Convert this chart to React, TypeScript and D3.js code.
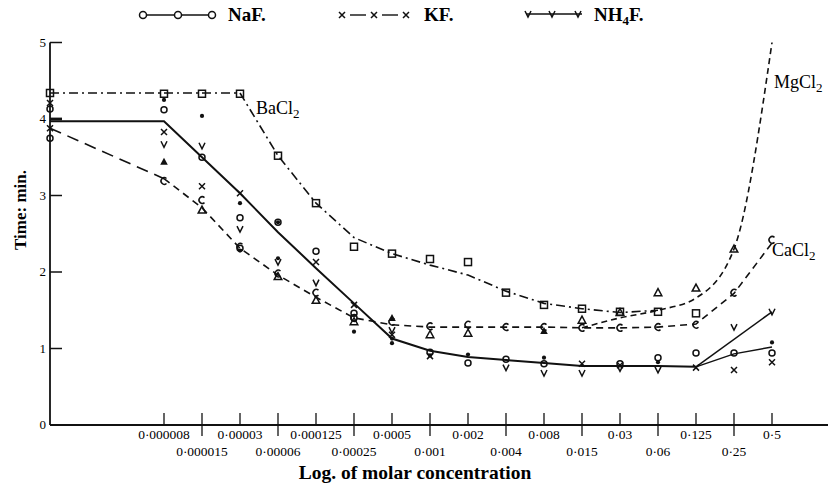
import React from 'react'
import * as d3 from 'd3'

// concentration steps along the bottom (each one doubles the last)
const concentrations = [
  '0·000008', '0·000015', '0·00003', '0·00006', '0·000125', '0·00025', '0·0005', '0·001',
  '0·002', '0·004', '0·008', '0·015', '0·03', '0·06', '0·125', '0·25', '0·5',
]
const CONTROL = 'control'
const lineCats = [CONTROL, ...concentrations]
const yTicks = [0, 1, 2, 3, 4, 5]

// drawn curves, one value per entry of lineCats (null = no line there)
const fluorideLine = [3.97, 3.97, 3.5, 3.03, 2.52, 2.05, 1.59, 1.13, 0.97, 0.89, 0.85, 0.81, 0.77, 0.77, 0.77, 0.76, null, null]
const naFBranch = [null, null, null, null, null, null, null, null, null, null, null, null, null, null, null, 0.76, 0.93, 1.02]
const nh4FBranch = [null, null, null, null, null, null, null, null, null, null, null, null, null, null, null, 0.76, null, 1.48]
const bacl2Line = [4.34, 4.34, 4.34, 4.34, 3.52, 2.9, 2.45, 2.24, 2.09, 1.96, 1.75, 1.59, 1.52, 1.47, 1.5, null, null, null]
const cacl2Line = [3.88, 3.22, 2.84, 2.31, 1.96, 1.67, 1.4, 1.31, 1.28, 1.28, 1.28, 1.28, 1.27, 1.27, 1.28, 1.32, 1.72, 2.38]
const mgcl2Line = [null, null, null, null, null, null, null, null, null, null, null, null, 1.27, 1.4, 1.5, 1.66, 2.3, 5.0]

// readings: [concentration, minutes]
const naF = [
  [CONTROL, 4.13], [CONTROL, 3.75], ['0·000008', 4.12], ['0·000015', 3.5], ['0·00003', 2.71], ['0·00003', 2.31],
  ['0·00006', 2.65], ['0·000125', 2.27], ['0·00025', 1.46], ['0·00025', 1.4], ['0·001', 0.95], ['0·002', 0.81],
  ['0·004', 0.86], ['0·008', 0.8], ['0·03', 0.8], ['0·06', 0.88], ['0·125', 0.94], ['0·25', 0.94], ['0·5', 0.94],
]
const kF = [
  [CONTROL, 4.21], [CONTROL, 3.88], ['0·000008', 3.83], ['0·000015', 3.12], ['0·00003', 3.03], ['0·000125', 2.13],
  ['0·00025', 1.57], ['0·0005', 1.18], ['0·001', 0.9], ['0·015', 0.8], ['0·03', 0.78], ['0·125', 0.75],
  ['0·25', 0.72], ['0·5', 0.82],
]
const nh4F = [
  ['0·000008', 3.67], ['0·000015', 3.65], ['0·00003', 2.56], ['0·00006', 2.13], ['0·000125', 1.86], ['0·0005', 1.24],
  ['0·004', 0.75], ['0·008', 0.68], ['0·015', 0.68], ['0·03', 0.74], ['0·06', 0.72], ['0·25', 1.28], ['0·5', 1.48],
]
const dots = [
  ['0·000008', 4.25], ['0·000015', 4.04], ['0·00003', 2.9], ['0·00003', 2.28], ['0·00006', 2.65], ['0·00006', 2.18],
  ['0·00025', 1.22], ['0·0005', 1.13], ['0·0005', 1.07], ['0·001', 0.91], ['0·002', 0.92], ['0·008', 0.88],
  ['0·06', 0.82], ['0·5', 1.08],
]
const baCl2 = [
  [CONTROL, 4.34], ['0·000008', 4.33], ['0·000015', 4.33], ['0·00003', 4.33], ['0·00006', 3.52], ['0·000125', 2.9],
  ['0·00025', 2.33], ['0·0005', 2.24], ['0·001', 2.17], ['0·002', 2.13], ['0·004', 1.73], ['0·008', 1.57],
  ['0·015', 1.52], ['0·03', 1.48], ['0·06', 1.48], ['0·125', 1.46],
]
const caCl2 = [
  ['0·000008', 3.19], ['0·000015', 2.94], ['0·00003', 2.33], ['0·00006', 1.98], ['0·000125', 1.73], ['0·00025', 1.4],
  ['0·0005', 1.35], ['0·001', 1.29], ['0·002', 1.31], ['0·004', 1.28], ['0·008', 1.28], ['0·015', 1.27],
  ['0·03', 1.27], ['0·06', 1.28], ['0·125', 1.31], ['0·25', 1.73], ['0·5', 2.42],
]
const mgCl2 = [
  ['0·000015', 2.81], ['0·00006', 1.94], ['0·000125', 1.63], ['0·00025', 1.35], ['0·001', 1.18], ['0·002', 1.2],
  ['0·015', 1.37], ['0·03', 1.47], ['0·06', 1.73], ['0·125', 1.79], ['0·25', 2.3],
]
const mgCl2Filled = [['0·000008', 3.44], ['0·0005', 1.4], ['0·008', 1.23]]

const W = 830
const H = 485
const serif = '"Liberation Serif", "Times New Roman", serif'

const xIdx = d3.scaleLinear().domain([-3, concentrations.length - 1]).range([50, 772])
const xOf = (c) => xIdx(c === CONTROL ? -3 : concentrations.indexOf(c))
const y = d3.scaleLinear().domain([0, 5]).range([425, 42.5])

function Marker({ kind, cx, cy }) {
  const s = { stroke: '#111', strokeWidth: 1.5, fill: 'none' }
  if (kind === 'o') return <circle cx={cx} cy={cy} r={3} {...s} />
  if (kind === 'dot') return <circle cx={cx} cy={cy} r={2.1} fill="#111" />
  if (kind === 'x')
    return <path d={`M${cx - 3},${cy - 3}L${cx + 3},${cy + 3}M${cx - 3},${cy + 3}L${cx + 3},${cy - 3}`} {...s} />
  if (kind === 'v') return <path d={`M${cx - 3},${cy - 3}L${cx},${cy + 3}L${cx + 3},${cy - 3}`} {...s} />
  if (kind === 'sq') return <rect x={cx - 3.5} y={cy - 3.5} width={7} height={7} {...s} />
  if (kind === 'c') return <path d={`M${cx + 2.5},${cy - 2.5}A3.3,3.3 0 1 0 ${cx + 2.5},${cy + 2.5}`} {...s} />
  if (kind === 'tri') return <path d={`M${cx},${cy - 4}L${cx + 3.8},${cy + 3}L${cx - 3.8},${cy + 3}Z`} {...s} />
  if (kind === 'triF') return <path d={`M${cx},${cy - 4}L${cx + 3.8},${cy + 3}L${cx - 3.8},${cy + 3}Z`} fill="#111" />
  return null
}

function seriesPath(values, curve = d3.curveLinear, from = 0, to = lineCats.length) {
  const pts = lineCats
    .map((c, i) => [xOf(c), values[i], i])
    .filter((d) => d[1] != null && d[2] >= from && d[2] < to)
  return d3.line().x((d) => d[0]).y((d) => y(d[1])).curve(curve)(pts)
}

const markerSets = [
  ['sq', baCl2], ['c', caCl2], ['tri', mgCl2], ['triF', mgCl2Filled],
  ['dot', dots], ['o', naF], ['x', kF], ['v', nh4F],
]

export default function App() {
  const axisY = y(0)
  return (
    <svg width={W} height={H} style={{ position: 'absolute', left: 0, top: 0, background: '#fff' }}>
      {/* legend */}
      <g fontFamily={serif} fontWeight="bold" fontSize={19}>
        <line x1={143} x2={212} y1={15} y2={15} stroke="#111" strokeWidth={1.4} />
        {[143, 178, 212].map((cx) => <circle key={cx} cx={cx} cy={15} r={3.5} fill="#fff" stroke="#111" strokeWidth={1.5} />)}
        <text x={228} y={21}>NaF.</text>
        {[[350, 366], [382, 398]].map(([a, b]) => <line key={a} x1={a} x2={b} y1={15} y2={15} stroke="#111" strokeWidth={1.4} />)}
        {[342, 374, 406].map((cx) => <Marker key={cx} kind="x" cx={cx} cy={15} />)}
        <text x={424} y={21}>KF.</text>
        <line x1={526} x2={582} y1={14} y2={14} stroke="#111" strokeWidth={1.4} />
        {[528, 552, 578].map((cx) => <Marker key={cx} kind="v" cx={cx} cy={14} />)}
        <text x={594} y={21}>NH<tspan fontSize={13} dy={4}>4</tspan><tspan dy={-4}>F.</tspan></text>
      </g>

      {/* axes */}
      <line x1={50} x2={828} y1={axisY} y2={axisY} stroke="#111" strokeWidth={2} />
      <line x1={50} x2={50} y1={axisY} y2={y(5)} stroke="#111" strokeWidth={1.8} />
      {yTicks.map((t) => (
        <g key={t}>
          {t > 0 && <line x1={50} x2={62} y1={y(t)} y2={y(t)} stroke="#111" strokeWidth={t === 4 ? 2.8 : 1.5} />}
          <text x={46} y={y(t) + 4} textAnchor="end" fontFamily={serif} fontSize={13}>{t}</text>
        </g>
      ))}
      {concentrations.map((c, i) => {
        const x = xOf(c)
        const low = i % 2 === 1
        return (
          <g key={c}>
            <line x1={x} x2={x} y1={axisY - 12} y2={low ? axisY + 11 : axisY} stroke="#111" strokeWidth={1.3} />
            <text x={x} y={low ? 456 : 439} textAnchor="middle" fontFamily={serif} fontSize={13.5}>{c}</text>
          </g>
        )
      })}
      <text x={415} y={479} textAnchor="middle" fontFamily={serif} fontWeight="bold" fontSize={19.5}>
        Log. of molar concentration
      </text>
      <text transform="translate(26,210) rotate(-90)" textAnchor="middle" fontFamily={serif} fontWeight="bold" fontSize={17}>
        Time: min.
      </text>

      {/* curves */}
      <g fill="none" stroke="#111">
        <path d={seriesPath(fluorideLine)} strokeWidth={2} />
        <path d={seriesPath(naFBranch)} strokeWidth={1.5} />
        <path d={seriesPath(nh4FBranch)} strokeWidth={1.5} />
        <path d={seriesPath(bacl2Line)} strokeWidth={1.6} strokeDasharray="9,4,2,4" />
        <path d={seriesPath(cacl2Line, d3.curveLinear, 0, 2)} strokeWidth={1.6} strokeDasharray="12,7" />
        <path d={seriesPath(cacl2Line, d3.curveLinear, 1)} strokeWidth={1.6} strokeDasharray="7,5" />
        <path d={seriesPath(mgcl2Line, d3.curveMonotoneX)} strokeWidth={1.6} strokeDasharray="6,4" />
      </g>

      {/* readings */}
      {markerSets.map(([kind, pts]) =>
        pts.map(([c, v], i) => <Marker key={kind + i} kind={kind} cx={xOf(c)} cy={y(v)} />)
      )}

      {/* salt labels */}
      <g fontFamily={serif} fontSize={18}>
        <text x={256} y={114}>BaCl<tspan fontSize={13} dy={4}>2</tspan></text>
        <text x={774} y={88}>MgCl<tspan fontSize={13} dy={4}>2</tspan></text>
        <text x={772} y={256}>CaCl<tspan fontSize={13} dy={4}>2</tspan></text>
      </g>
    </svg>
  )
}
